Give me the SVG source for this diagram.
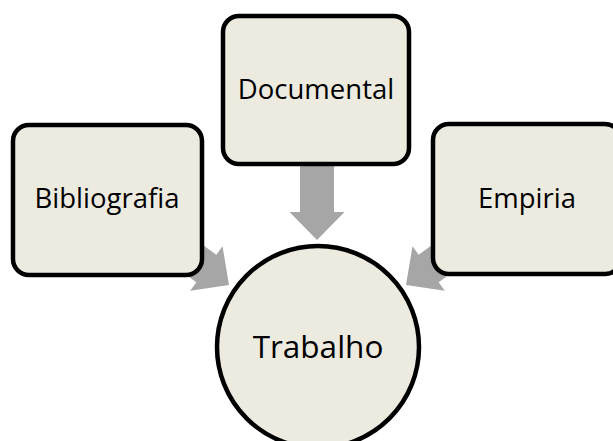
<svg xmlns="http://www.w3.org/2000/svg" width="613" height="441" viewBox="0 0 613 441">
  <style>
    .node { fill: #EDEBE0; stroke: #000; stroke-width: 4.5; }
    .lbl { font-family: "Open Sans", "Liberation Sans", sans-serif; font-size: 27.5px; fill: #000; text-anchor: middle; }
    .arrow { fill: #A6A6A6; }
  </style>
  <defs>
    <polygon id="arr" points="-28,-27.5 0,0 -28,27.5 -28,17 -80,17 -80,-17 -28,-17"/>
  </defs>
  <rect width="613" height="441" fill="#fff"/>
  <g id="connectors" class="arrow">
    <use href="#arr" transform="translate(317,240) rotate(90)"/>
    <use href="#arr" transform="translate(229,285) rotate(36)"/>
    <use href="#arr" transform="translate(406,285) rotate(144)"/>
  </g>
  <g id="documental">
    <rect class="node" x="223" y="16" width="186" height="148" rx="16"/>
    <text class="lbl" x="316" y="99">Documental</text>
  </g>
  <g id="bibliografia">
    <rect class="node" x="13" y="125" width="189" height="150" rx="16"/>
    <text class="lbl" x="107" y="208">Bibliografia</text>
  </g>
  <g id="empiria">
    <rect class="node" x="433" y="124" width="188" height="150" rx="16"/>
    <text class="lbl" x="527" y="208">Empiria</text>
  </g>
  <g id="trabalho">
    <circle class="node" cx="318" cy="347" r="101"/>
    <text class="lbl" x="318" y="358" style="font-size:31.5px">Trabalho</text>
  </g>
</svg>
